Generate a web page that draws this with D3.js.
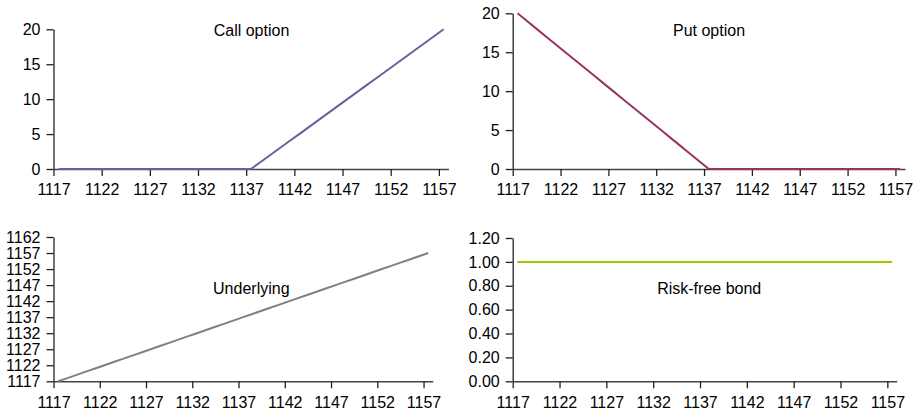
<!DOCTYPE html>
<html>
<head>
<meta charset="utf-8">
<script src="https://cdn.jsdelivr.net/npm/d3@7/dist/d3.min.js"></script>
<style>
  html, body { margin: 0; padding: 0; background: #fff; }
  svg text { font-family: "Liberation Sans", Arial, sans-serif; fill: #000; }
</style>
</head>
<body>
<svg id="chart" width="920" height="414"></svg>
<script>
// ---- Data ----
const prices = [1117,1118,1119,1120,1121,1122,1123,1124,1125,1126,1127,1128,1129,1130,1131,1132,1133,1134,1135,1136,1137,1138,1139,1140,1141,1142,1143,1144,1145,1146,1147,1148,1149,1150,1151,1152,1153,1154,1155,1156,1157];
const callValues = [0,0,0,0,0,0,0,0,0,0,0,0,0,0,0,0,0,0,0,0,0,1,2,3,4,5,6,7,8,9,10,11,12,13,14,15,16,17,18,19,20];
const putValues = [20,19,18,17,16,15,14,13,12,11,10,9,8,7,6,5,4,3,2,1,0,0,0,0,0,0,0,0,0,0,0,0,0,0,0,0,0,0,0,0,0];
const underlyingValues = [1117,1118,1119,1120,1121,1122,1123,1124,1125,1126,1127,1128,1129,1130,1131,1132,1133,1134,1135,1136,1137,1138,1139,1140,1141,1142,1143,1144,1145,1146,1147,1148,1149,1150,1151,1152,1153,1154,1155,1156,1157];
const bondValues = [1,1,1,1,1,1,1,1,1,1,1,1,1,1,1,1,1,1,1,1,1,1,1,1,1,1,1,1,1,1,1,1,1,1,1,1,1,1,1,1,1];
const xTickLabels = [1117,1122,1127,1132,1137,1142,1147,1152,1157];
const callTicks = [0,5,10,15,20];
const putTicks = [0,5,10,15,20];
const underlyingTicks = [1117,1122,1127,1132,1137,1142,1147,1152,1157,1162];
const bondTicks = [0,0.2,0.4,0.6,0.8,1.0,1.2];
const titles = ["Call option","Put option","Underlying","Risk-free bond"];

// ---- Panels ----
const panels = [
  { title: titles[0], values: callValues, yTicks: callTicks, yDomain: [0,20], fmt: d3.format("d"), color: "#63639f",
    x0: 53.5, x1: 448.5, yTop: 29.3, yBot: 169, tx: 251.5, ty: 30 },
  { title: titles[1], values: putValues, yTicks: putTicks, yDomain: [0,20], fmt: d3.format("d"), color: "#993366",
    x0: 512.7, x1: 905, yTop: 13.3, yBot: 169, tx: 709, ty: 30 },
  { title: titles[2], values: underlyingValues, yTicks: underlyingTicks, yDomain: [1117,1162], fmt: d3.format("d"), color: "#808080",
    x0: 53.5, x1: 432.8, yTop: 237, yBot: 381.3, tx: 251.3, ty: 288.7 },
  { title: titles[3], values: bondValues, yTicks: bondTicks, yDomain: [0,1.2], fmt: d3.format(".2f"), color: "#99cc00",
    x0: 512.7, x1: 896.7, yTop: 238, yBot: 381.3, tx: 709.2, ty: 288.7 }
];

const svg = d3.select("#chart");
const FONT = 16;

panels.forEach(p => {
  const g = svg.append("g");
  const x = d3.scaleLinear().domain([prices[0], prices[prices.length-1] + 1]).range([p.x0, p.x1]);
  const y = d3.scaleLinear().domain(p.yDomain).range([p.yBot, p.yTop]);

  // Y axis
  const yAxis = d3.axisLeft(y).tickValues(p.yTicks).tickFormat(p.fmt).tickSize(7).tickPadding(6).tickSizeOuter(0);
  const ya = g.append("g").attr("transform", `translate(${p.x0},0)`).call(yAxis);
  ya.select(".domain").attr("stroke", "#222").attr("stroke-width", 1.3);
  ya.selectAll(".tick line").attr("stroke", "#222").attr("stroke-width", 1.3);
  ya.selectAll(".tick text").attr("font-size", FONT).attr("fill", "#000");

  // X axis
  const xAxis = d3.axisBottom(x).tickValues(xTickLabels).tickFormat(d3.format("d")).tickSize(7).tickPadding(8).tickSizeOuter(0);
  const xa = g.append("g").attr("transform", `translate(0,${p.yBot})`).call(xAxis);
  xa.select(".domain").attr("stroke", "#444").attr("stroke-width", 1.6);
  xa.selectAll(".tick line").attr("stroke", "#222").attr("stroke-width", 1.3);
  xa.selectAll(".tick text").attr("font-size", FONT).attr("fill", "#000");

  // Line (points at category centers)
  const line = d3.line().x((d, i) => x(prices[i] + 0.5)).y(d => y(d));
  g.append("path").datum(p.values)
    .attr("fill", "none").attr("stroke", p.color).attr("stroke-width", 2)
    .attr("d", line);

  // Title
  g.append("text").attr("x", p.tx).attr("y", p.ty).attr("text-anchor", "middle")
    .attr("dominant-baseline", "central").attr("font-size", 16).text(p.title);
});
</script>
</body>
</html>
